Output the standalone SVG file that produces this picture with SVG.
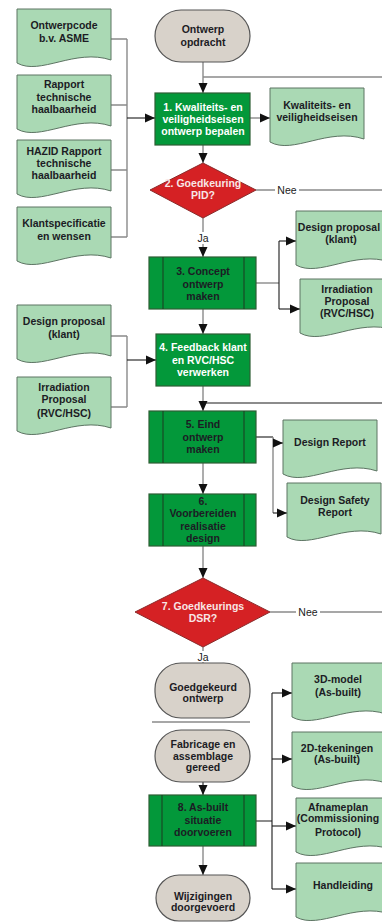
<svg xmlns="http://www.w3.org/2000/svg" xmlns:xlink="http://www.w3.org/1999/xlink" width="382" height="923" viewBox="0 0 382 923">
  <style>
    text { font-family: "Liberation Sans", Arial, sans-serif; font-size: 10.5px; font-weight: bold; text-anchor: middle; fill: #1c1c24; }
    .w { fill: #ffffff; }
    .wp { fill: #f8e6e6; }
    .lbl { font-weight: normal; fill: #222; }
    .doc { fill: #aad9b4; stroke: #5d7463; stroke-width: 1; }
    .term { fill: #d8d2ca; stroke: #555; stroke-width: 1.2; }
    .proc { fill: #03983a; stroke: #2e5e34; stroke-width: 1.2; }
    .sub { stroke: #1d3a20; stroke-width: 1; }
    .dec { fill: #d52124; stroke: #8a2a2a; stroke-width: 1; }
    .g { fill: none; stroke: #8a8a8a; stroke-width: 1.4; }
    .k { fill: none; stroke: #1a1a1a; stroke-width: 1.1; }
    .arr { marker-end: url(#ah); }
    .bg { fill: #ffffff; }
  </style>
  <defs>
    <path id="docshape" d="M0,0 H94 V51 C58,39 23,67 0,54 Z"/>
    <marker id="ah" markerUnits="userSpaceOnUse" markerWidth="10" markerHeight="10" viewBox="0 0 10 10" refX="10" refY="5" orient="auto">
      <path d="M0,0.5 L10,5 L0,9.5 Z" fill="#111"/>
    </marker>
  </defs>

  <!-- connectors -->
  <g id="connectors">
    <path class="g arr" d="M203,62 V93"/>
    <path class="g" d="M203,77 H382"/>
    <path class="g" d="M111,39 H127 M111,105 H127 M111,170 H127 M111,237 H127 M127,39 V237"/>
    <path class="k arr" d="M127,118 H155"/>
    <path class="g arr" d="M250,118 H270"/>
    <path class="g arr" d="M203,145 V163"/>
    <path class="g" d="M256,190 H382"/>
    <path class="g arr" d="M203,218 V257"/>
    <path class="g" d="M256,283 H279"/>
    <path class="k" d="M279,241 V309"/>
    <path class="k arr" d="M279,241 H296"/>
    <path class="k arr" d="M279,309 H300"/>
    <path class="g arr" d="M203,309 V334"/>
    <path class="g" d="M111,336 H127 M111,407 H127 M127,336 V407"/>
    <path class="k arr" d="M127,360 H156"/>
    <path class="g arr" d="M203,386 V411"/>
    <path class="k" d="M203,403 H382"/>
    <path class="k" d="M256,437 H273"/>
    <path class="g" d="M273,437 V513"/>
    <path class="k arr" d="M273,443 H283"/>
    <path class="k arr" d="M273,513 H287"/>
    <path class="g arr" d="M203,463 V494"/>
    <path class="g arr" d="M203,546 V578"/>
    <path class="g" d="M270,612 H382"/>
    <path class="g" d="M203,647 V663"/>
    <path class="g" d="M152,722 H250"/>
    <path class="k arr" d="M203,782 V795"/>
    <path class="g arr" d="M203,846 V875"/>
    <path class="k" d="M256,821 H272 M272,693 V889"/>
    <path class="k arr" d="M272,693 H292"/>
    <path class="k arr" d="M272,759 H292"/>
    <path class="k arr" d="M272,826 H296"/>
    <path class="k arr" d="M272,889 H296"/>
    <!-- branch labels -->
    <rect class="bg" x="275" y="184" width="24" height="12"/>
    <text class="lbl" x="287" y="193.8">Nee</text>
    <rect class="bg" x="194" y="232" width="18" height="12"/>
    <text class="lbl" x="203" y="241.8">Ja</text>
    <rect class="bg" x="296" y="606" width="24" height="12"/>
    <text class="lbl" x="308" y="615.8">Nee</text>
    <rect class="bg" x="194" y="651" width="18" height="11"/>
    <text class="lbl" x="203" y="660.8">Ja</text>
  </g>

  <!-- input documents, left -->
  <g id="doc-ontwerpcode">
    <use xlink:href="#docshape" class="doc" x="17" y="9"/>
    <text x="64" y="29">Ontwerpcode</text>
    <text x="64" y="41.5">b.v. ASME</text>
  </g>
  <g id="doc-rapport">
    <use xlink:href="#docshape" class="doc" x="17" y="75"/>
    <text x="64" y="87.8">Rapport</text>
    <text x="64" y="100.8">technische</text>
    <text x="64" y="112.8">haalbaarheid</text>
  </g>
  <g id="doc-hazid">
    <use xlink:href="#docshape" class="doc" x="17" y="140"/>
    <text x="64" y="154.8">HAZID Rapport</text>
    <text x="64" y="166.8">technische</text>
    <text x="64" y="178.8">haalbaarheid</text>
  </g>
  <g id="doc-klantspec">
    <use xlink:href="#docshape" class="doc" x="17" y="207"/>
    <text x="64" y="226.8">Klantspecificatie</text>
    <text x="64" y="239.8">en wensen</text>
  </g>
  <g id="doc-designproposal-in">
    <use xlink:href="#docshape" class="doc" x="17" y="305"/>
    <text x="64" y="324.8">Design proposal</text>
    <text x="64" y="337.8">(klant)</text>
  </g>
  <g id="doc-irradiation-in">
    <use xlink:href="#docshape" class="doc" x="17" y="377"/>
    <text x="64" y="390.5">Irradiation</text>
    <text x="64" y="403.1">Proposal</text>
    <text x="64" y="416.5">(RVC/HSC)</text>
  </g>

  <!-- main flow -->
  <g id="start-ontwerp-opdracht">
    <rect class="term" x="155" y="10" width="95" height="52" rx="26" ry="26"/>
    <text x="203" y="32.8">Ontwerp</text>
    <text x="203" y="45.8">opdracht</text>
  </g>
  <g id="step1">
    <rect class="proc" x="155" y="93" width="95" height="52"/>
    <text class="w" x="203" y="110.8">1. Kwaliteits- en</text>
    <text class="w" x="203" y="122.8">veiligheidseisen</text>
    <text class="w" x="203" y="134.8">ontwerp bepalen</text>
  </g>
  <g id="doc-kwaliteitseisen">
    <use xlink:href="#docshape" class="doc" x="270" y="88"/>
    <text x="317" y="108.8">Kwaliteits- en</text>
    <text x="317" y="120.8">veiligheidseisen</text>
  </g>
  <g id="decision2">
    <polygon class="dec" points="203,163 256,190 203,218 150,190"/>
    <text class="wp" x="203" y="186.8">2. Goedkeuring</text>
    <text class="wp" x="203" y="198.8">PID?</text>
  </g>
  <g id="step3">
    <rect class="proc" x="149" y="257" width="107" height="52"/>
    <path class="sub" d="M163,257 V309 M244,257 V309"/>
    <text x="203" y="274.8">3. Concept</text>
    <text x="203" y="287.8">ontwerp</text>
    <text x="203" y="299.8">maken</text>
  </g>
  <g id="doc-designproposal-out">
    <use xlink:href="#docshape" class="doc" x="296" y="211"/>
    <text x="339" y="230.8">Design proposal</text>
    <text x="341" y="242.8">(klant)</text>
  </g>
  <g id="doc-irradiation-out">
    <use xlink:href="#docshape" class="doc" x="300" y="279"/>
    <text x="347" y="292.8">Irradiation</text>
    <text x="347" y="304.8">Proposal</text>
    <text x="347" y="316.8">(RVC/HSC)</text>
  </g>
  <g id="step4">
    <rect class="proc" x="156" y="334" width="94" height="52"/>
    <text class="w" x="203" y="350.8">4. Feedback klant</text>
    <text class="w" x="203" y="363.8">en RVC/HSC</text>
    <text class="w" x="203" y="375.8">verwerken</text>
  </g>
  <g id="step5">
    <rect class="proc" x="149" y="411" width="107" height="52"/>
    <path class="sub" d="M163,411 V463 M244,411 V463"/>
    <text x="203" y="427.8">5. Eind</text>
    <text x="203" y="440.8">ontwerp</text>
    <text x="203" y="452.8">maken</text>
  </g>
  <g id="doc-design-report">
    <use xlink:href="#docshape" class="doc" x="283" y="420"/>
    <text x="330" y="445.8">Design Report</text>
  </g>
  <g id="doc-design-safety-report">
    <use xlink:href="#docshape" class="doc" x="287" y="483"/>
    <text x="335" y="503.8">Design Safety</text>
    <text x="335" y="515.8">Report</text>
  </g>
  <g id="step6">
    <rect class="proc" x="149" y="494" width="107" height="52"/>
    <path class="sub" d="M163,494 V546 M244,494 V546"/>
    <text x="203" y="504.8">6.</text>
    <text x="203" y="516.8">Voorbereiden</text>
    <text x="203" y="529.8">realisatie</text>
    <text x="203" y="541.8">design</text>
  </g>
  <g id="decision7">
    <polygon class="dec" points="203,578 270,612 203,647 135,612"/>
    <text class="wp" x="203" y="609.8">7. Goedkeurings</text>
    <text class="wp" x="203" y="621.8">DSR?</text>
  </g>
  <g id="end-goedgekeurd">
    <rect class="term" x="155" y="663" width="95" height="55" rx="26" ry="26"/>
    <text x="203" y="690.5">Goedgekeurd</text>
    <text x="203" y="702">ontwerp</text>
  </g>
  <g id="start-fabricage">
    <rect class="term" x="155" y="730" width="95" height="52" rx="26" ry="26"/>
    <text x="203" y="747.5">Fabricage en</text>
    <text x="203" y="759.8">assemblage</text>
    <text x="203" y="771">gereed</text>
  </g>
  <g id="step8">
    <rect class="proc" x="149" y="795" width="107" height="51"/>
    <path class="sub" d="M162,795 V846 M244,795 V846"/>
    <text x="203" y="811">8. As-built</text>
    <text x="203" y="823.8">situatie</text>
    <text x="203" y="835.5">doorvoeren</text>
  </g>
  <g id="end-wijzigingen">
    <rect class="term" x="156" y="875" width="94" height="46" rx="23" ry="23"/>
    <text x="203" y="899.5">Wijzigingen</text>
    <text x="203" y="910.5">doorgevoerd</text>
  </g>
  <g id="doc-3d-model">
    <use xlink:href="#docshape" class="doc" x="292" y="663"/>
    <text x="338" y="683">3D-model</text>
    <text x="338" y="696">(As-built)</text>
  </g>
  <g id="doc-2d-tekeningen">
    <use xlink:href="#docshape" class="doc" x="292" y="732"/>
    <text x="337" y="751.5">2D-tekeningen</text>
    <text x="337" y="763">(As-built)</text>
  </g>
  <g id="doc-afnameplan">
    <use xlink:href="#docshape" class="doc" x="296" y="798"/>
    <text x="338" y="810.5">Afnameplan</text>
    <text x="338" y="822">(Commissioning</text>
    <text x="338" y="835.5">Protocol)</text>
  </g>
  <g id="doc-handleiding">
    <use xlink:href="#docshape" class="doc" x="296" y="863"/>
    <text x="343" y="888.8">Handleiding</text>
  </g>
</svg>
